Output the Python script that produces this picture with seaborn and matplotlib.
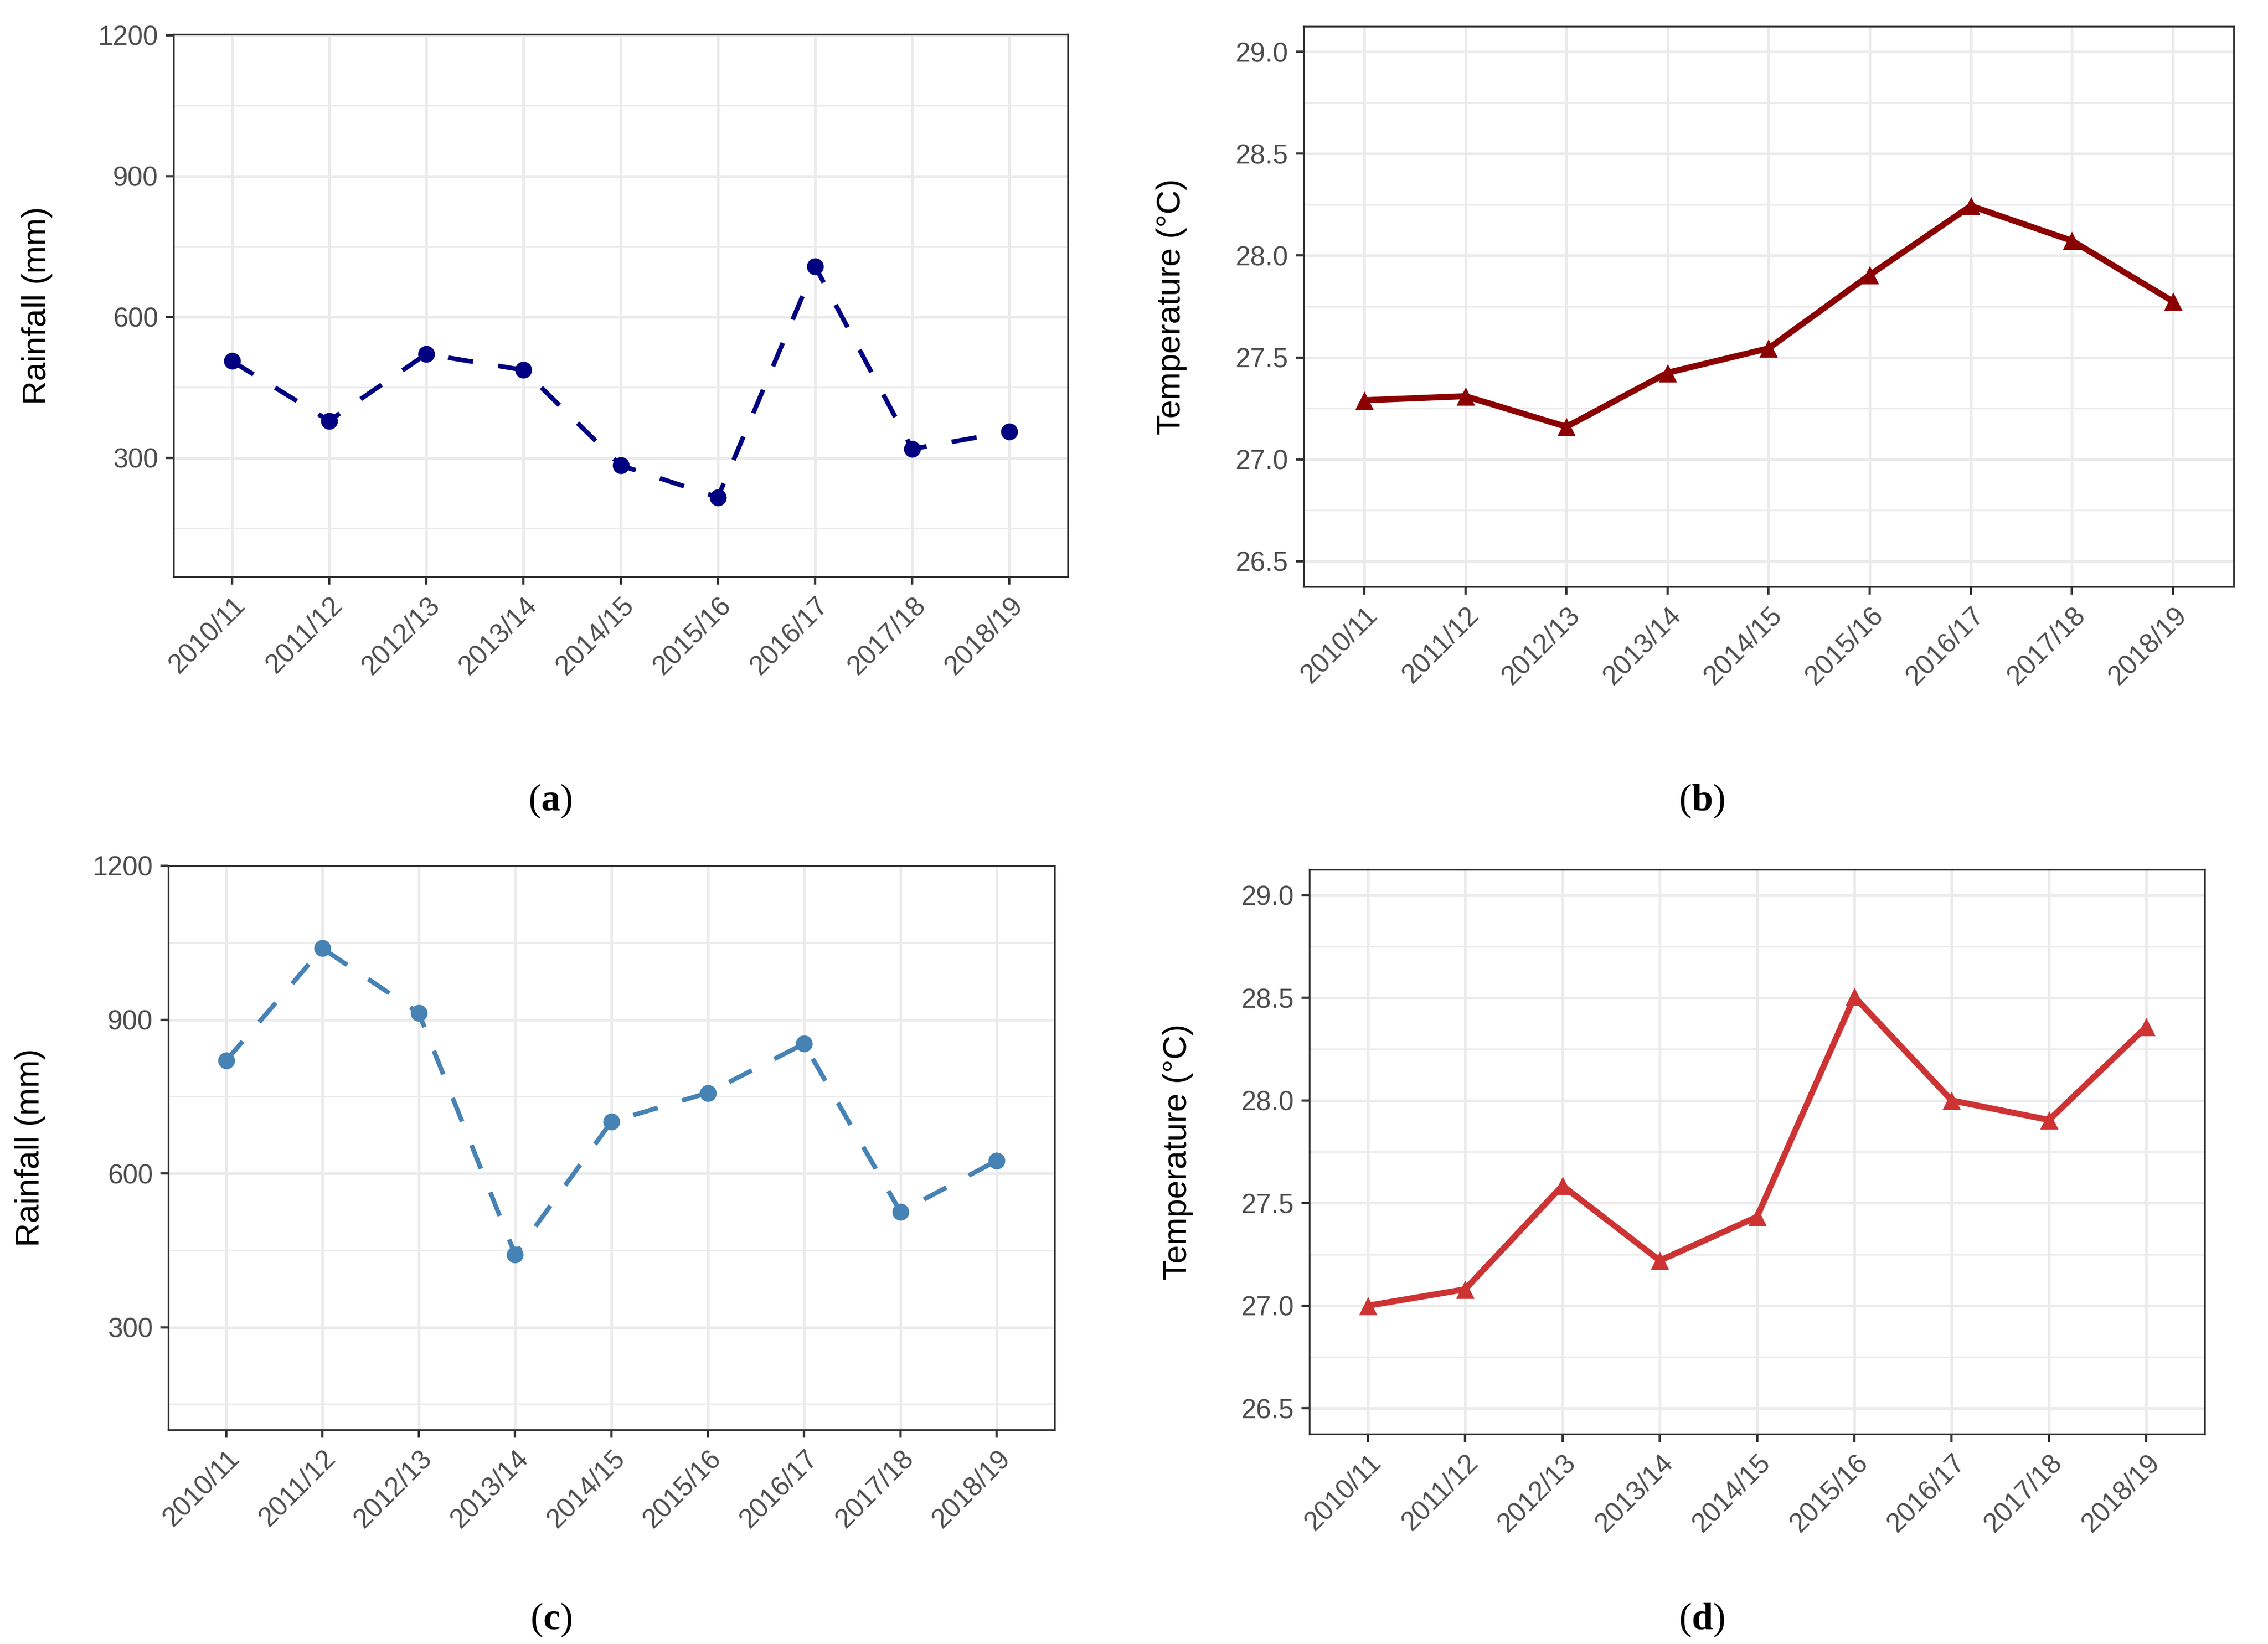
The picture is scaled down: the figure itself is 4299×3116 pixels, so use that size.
import matplotlib
matplotlib.use("Agg")
import matplotlib.pyplot as plt
import seaborn as sns
import numpy as np
from matplotlib.ticker import FixedLocator

seasons = ["2010/11", "2011/12", "2012/13", "2013/14", "2014/15",
           "2015/16", "2016/17", "2017/18", "2018/19"]
rain_a = [506, 379, 521, 487, 284, 216, 708, 319, 356]
temp_b = [27.29, 27.31, 27.16, 27.425, 27.545, 27.905, 28.244, 28.073, 27.775]
rain_c = [820, 1039, 913, 442, 701, 757, 853, 525, 625]
temp_d = [27.0, 27.08, 27.585, 27.22, 27.433, 28.505, 28.0, 27.905, 28.358]

rain_major = [300, 600, 900, 1200]
rain_minor = [150, 450, 750, 1050]
temp_major = [26.5, 27.0, 27.5, 28.0, 28.5, 29.0]
temp_minor = [26.75, 27.25, 27.75, 28.25, 28.75]

panel_labels = ["a", "b", "c", "d"]

sns.set_theme(style="white")
plt.rcParams["font.family"] = ["Liberation Sans", "DejaVu Sans"]
plt.rcParams["mathtext.fontset"] = "custom"
plt.rcParams["mathtext.rm"] = "Liberation Serif"
plt.rcParams["mathtext.bf"] = "Liberation Serif:bold"

W, H = 4299, 3116
fig = plt.figure(figsize=(W / 100, H / 100), dpi=100)

# left, right, top, bottom in pixels
boxes = [
    (329, 2024, 65, 1093),
    (2471, 4234, 50, 1112),
    (319, 1999, 1641, 2710),
    (2482, 4179, 1648, 2718),
]
ylabel_x = [71, 2220, 58, 2232]
label_pos = [(1043, 1518), (3226, 1518), (1045, 3070), (3226, 3070)]

specs = [
    dict(y=rain_a, color="#000080", marker="o", dashed=True, ylim=(47, 1202),
         major=rain_major, minor=rain_minor, ylabel="Rainfall (mm)", fmt="{:.0f}"),
    dict(y=temp_b, color="#8B0000", marker="^", dashed=False, ylim=(26.375, 29.125),
         major=temp_major, minor=temp_minor, ylabel="Temperature (°C)", fmt="{:.1f}"),
    dict(y=rain_c, color="#4682B4", marker="o", dashed=True, ylim=(100, 1200),
         major=rain_major, minor=rain_minor, ylabel="Rainfall (mm)", fmt="{:.0f}"),
    dict(y=temp_d, color="#CD3333", marker="^", dashed=False, ylim=(26.375, 29.125),
         major=temp_major, minor=temp_minor, ylabel="Temperature (°C)", fmt="{:.1f}"),
]

grid_c = "#EBEBEB"
dark = "#333333"

for i, (spec, box) in enumerate(zip(specs, boxes)):
    l, r, t, b = box
    ax = fig.add_axes([l / W, 1 - b / H, (r - l) / W, (b - t) / H])
    lw = 6.3 if spec["dashed"] else 8.3
    sns.lineplot(x=seasons, y=spec["y"], ax=ax, color=spec["color"],
                 linewidth=lw, sort=False, zorder=3,
                 linestyle="--" if spec["dashed"] else "-")
    line = ax.lines[-1]
    if spec["dashed"]:
        line.set_dashes((5.5, 5.5))
    msize = 23 if spec["marker"] == "o" else 25
    sns.scatterplot(x=seasons, y=spec["y"], ax=ax, color=spec["color"],
                    marker=spec["marker"], s=msize ** 2,
                    edgecolor=spec["color"], linewidth=0, zorder=4)
    ax.set_xlim(-0.6, 8.6)
    ax.set_ylim(*spec["ylim"])
    ax.yaxis.set_major_locator(FixedLocator(spec["major"]))
    ax.yaxis.set_minor_locator(FixedLocator(spec["minor"]))
    ax.set_yticks(spec["major"])
    ax.set_yticklabels([spec["fmt"].format(v) for v in spec["major"]])
    ax.set_xticks(range(len(seasons)))
    ax.set_xticklabels(seasons, rotation=45, ha="right", va="top",
                       rotation_mode="anchor")
    ax.set_axisbelow(True)
    ax.grid(which="major", axis="both", color=grid_c, linewidth=3.6, zorder=0)
    ax.grid(which="minor", axis="y", color=grid_c, linewidth=2.0, zorder=0)
    for sp in ax.spines.values():
        sp.set_color(dark)
        sp.set_linewidth(2.4)
        sp.set_visible(True)
    ax.tick_params(axis="both", which="major", length=11, width=3.2, color=dark,
                   labelsize=37, labelcolor="#4D4D4D", pad=10, left=True, bottom=True)
    ax.tick_params(axis="both", which="minor", length=0)
    ax.set_xlabel("")
    ax.set_ylabel(spec["ylabel"], fontsize=45.5, color="black")
    ax.yaxis.label.set(ha="center", va="center", rotation_mode="anchor")
    ax.yaxis.set_label_coords((ylabel_x[i] - l) / (r - l), 0.5)
    lx, ly = label_pos[i]
    fig.text(lx / W, 1 - ly / H, "($\\mathbf{" + panel_labels[i] + "}$)",
             family="Liberation Serif", fontsize=52, ha="center", va="center",
             color="black")

fig.savefig("out.png", dpi=100, facecolor="white")
